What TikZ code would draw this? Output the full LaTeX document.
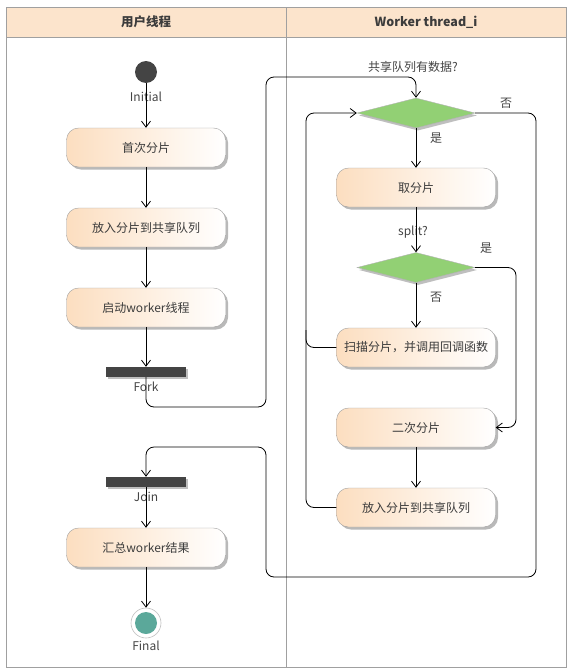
\documentclass[tikz,border=0pt]{standalone}
\usepackage{fontspec}
\setmainfont{Noto Sans CJK SC}
\usetikzlibrary{shapes.geometric,arrows.meta,shadows}
\definecolor{hdrfill}{RGB}{252,228,204}
\definecolor{actfill}{RGB}{252,222,192}
\definecolor{lanegray}{RGB}{160,160,160}
\definecolor{dkgray}{RGB}{68,68,68}
\definecolor{decgreen}{RGB}{146,208,116}
\definecolor{teal2}{RGB}{91,168,154}
\definecolor{txt}{RGB}{60,60,60}
\tikzset{
  act/.style={rectangle, rounded corners=12pt, minimum width=159pt, minimum height=39pt,
    draw=gray!75, left color=actfill, right color=white, text=txt,
    drop shadow={shadow xshift=2.5pt, shadow yshift=-2.5pt, fill=gray!55, opacity=1},
    font=\fontsize{12}{14}\selectfont},
  dec/.style={diamond, minimum width=118pt, minimum height=30pt, inner sep=0pt,
    fill=decgreen, draw=gray!60,
    drop shadow={shadow xshift=2pt, shadow yshift=-2.5pt, fill=gray!50, opacity=1}},
  bar/.style={rectangle, minimum width=80pt, minimum height=10pt, inner sep=0pt, fill=dkgray,
    drop shadow={shadow xshift=2pt, shadow yshift=-2pt, fill=gray!50, opacity=1}},
  lbl/.style={text=dkgray, font=\fontsize{12}{14}\selectfont, inner sep=0pt},
  hdr/.style={font=\fontsize{12.5}{14}\selectfont\bfseries, text=txt},
  arr/.style={draw=black, line width=0.8pt, -{Straight Barb[length=6pt,width=9pt]}},
  conn/.style={draw=black, line width=0.8pt, rounded corners=8pt},
}
\begin{document}
\begin{tikzpicture}[x=1pt,y=-1pt]
\useasboundingbox (0,0) rectangle (571,672);
% swimlanes
\fill[hdrfill] (6,7) rectangle (566,37);
\draw[lanegray, line width=0.8pt] (6,7) rectangle (566,667);
\draw[lanegray, line width=0.8pt] (6,37) -- (566,37);
\draw[lanegray, line width=0.8pt] (286,7) -- (286,667);
\node[hdr] (h1) at (146,22) {用户线程};
\node[hdr] (h2) at (426,22) {Worker thread\_i};

% left lane
\node[circle, fill=dkgray, minimum size=22pt, inner sep=0pt] (init) at (146,72) {};
\node[lbl] (initl) at (146,97) {Initial};
\node[act] (a1) at (146,147.5) {首次分片};
\node[act] (a2) at (146,227.5) {放入分片到共享队列};
\node[act] (a3) at (146,307.5) {启动worker线程};
\node[bar] (fork) at (146,372) {};
\node[lbl] (forkl) at (146,387) {Fork};
\node[bar] (join) at (146,482) {};
\node[lbl] (joinl) at (146,497) {Join};
\node[act] (a4) at (146,547.5) {汇总worker结果};
\node[circle, fill=white, draw=gray!50, line width=0.6pt, minimum size=30pt, inner sep=0pt] (fin) at (146,623) {};
\node[circle, fill=teal2, minimum size=22pt, inner sep=0pt] (fini) at (146,623) {};
\node[lbl] (finl) at (146,646) {Final};

% right lane
\node[lbl] (q1) at (413,67) {共享队列有数据?};
\node[dec] (d1) at (416,113) {};
\node[lbl] (y1) at (436,138) {是};
\node[lbl] (n1) at (506,103) {否};
\node[act] (take) at (416,187.5) {取分片};
\node[lbl] (q2) at (413,232) {split?};
\node[dec] (d2) at (416,267.5) {};
\node[lbl] (y2) at (486,248) {是};
\node[lbl] (n2) at (436,297) {否};
\node[act] (scan) at (416,347.5) {扫描分片，并调用回调函数};
\node[act] (split2) at (416,427.5) {二次分片};
\node[act] (put2) at (416,507.5) {放入分片到共享队列};

% connectors
\draw[arr] (init) -- (a1);
\draw[arr] (a1) -- (a2);
\draw[arr] (a2) -- (a3);
\draw[arr] (a3) -- (fork);
\draw[arr] (join) -- (a4);
\draw[arr] (a4) -- (fin);
\draw[arr, rounded corners=8pt] (fork.south) -- (146,407) -- (266,407) -- (266,77) -- (416,77) -- (d1.north);
\draw[arr, rounded corners=8pt] (d1.east) -- (536,113) -- (536,577) -- (266,577) -- (266,447) -- (146,447) -- (join.north);
\draw[arr] (d1) -- (take);
\draw[arr] (take) -- (d2);
\draw[arr] (d2) -- (scan);
\draw[arr, rounded corners=8pt] (d2.east) -- (516,267.5) -- (516,427.5) -- (split2.east);
\draw[arr] (split2) -- (put2);
\draw[arr, rounded corners=8pt] (scan.west) -- (306,347.5) -- (306,113) -- (d1.west);
\draw[conn] (put2.west) -- (306,507.5) -- (306,330);
\end{tikzpicture}
\end{document}
